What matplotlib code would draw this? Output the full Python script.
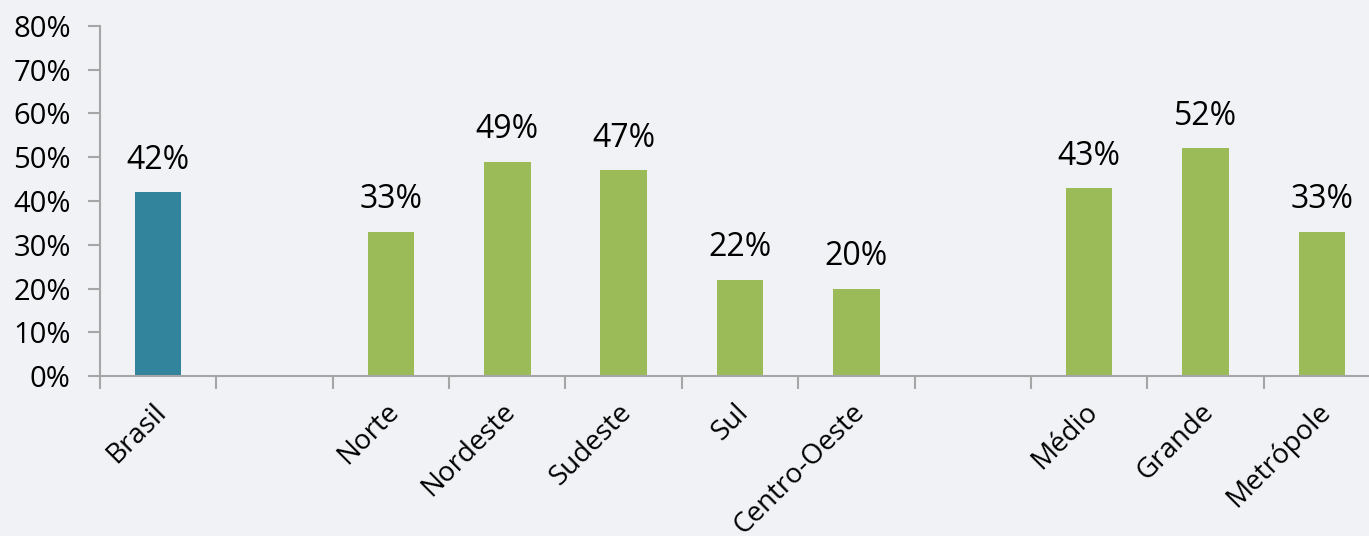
import matplotlib.pyplot as plt

categorias = ['Brasil', '', 'Norte', 'Nordeste', 'Sudeste', 'Sul', 'Centro-Oeste',
              '', 'Médio', 'Grande', 'Metrópole']
valores = [42, None, 33, 49, 47, 22, 20, None, 43, 52, 33]
cores = ['#31849B', None, '#9BBB59', '#9BBB59', '#9BBB59', '#9BBB59', '#9BBB59',
         None, '#9BBB59', '#9BBB59', '#9BBB59']
yticks = [0, 10, 20, 30, 40, 50, 60, 70, 80]

plt.rcParams['font.family'] = ['Open Sans', 'DejaVu Sans']

fig = plt.figure(figsize=(13.69, 5.36), dpi=100)
fig.patch.set_facecolor('#f1f2f6')
ax = fig.add_axes([100 / 1369, 0.2985, 1280 / 1369, 0.653])
ax.set_facecolor('none')

for i, (v, c) in enumerate(zip(valores, cores)):
    if v is None:
        continue
    ax.bar(i, v, width=0.4, color=c, zorder=2)
    ax.text(i, v + 3.5, f'{v}%', ha='center', va='bottom', fontsize=23, color='black')

ax.set_xlim(-0.5, len(categorias) - 0.5)
ax.set_ylim(0, 80)
ax.set_yticks(yticks)
ax.set_yticklabels([f'{t}%' for t in yticks], fontsize=21)

# ticks nos limites entre as categorias
ax.set_xticks([i + 0.5 for i in range(-1, len(categorias))])
ax.set_xticklabels([])
for i, nome in enumerate(categorias):
    if nome:
        ax.text(i - 0.05, -5, nome, rotation=45, ha='right', va='top',
                rotation_mode='anchor', fontsize=20, transform=ax.transData)

for lado in ['top', 'right']:
    ax.spines[lado].set_visible(False)
for lado in ['left', 'bottom']:
    ax.spines[lado].set_color('#a6a6a6')
    ax.spines[lado].set_linewidth(1.5)
ax.tick_params(axis='both', direction='out', length=9, width=1.5, color='#a6a6a6')
ax.tick_params(axis='y', pad=12)

plt.savefig('out.png', dpi=100, facecolor=fig.get_facecolor())
plt.close()
